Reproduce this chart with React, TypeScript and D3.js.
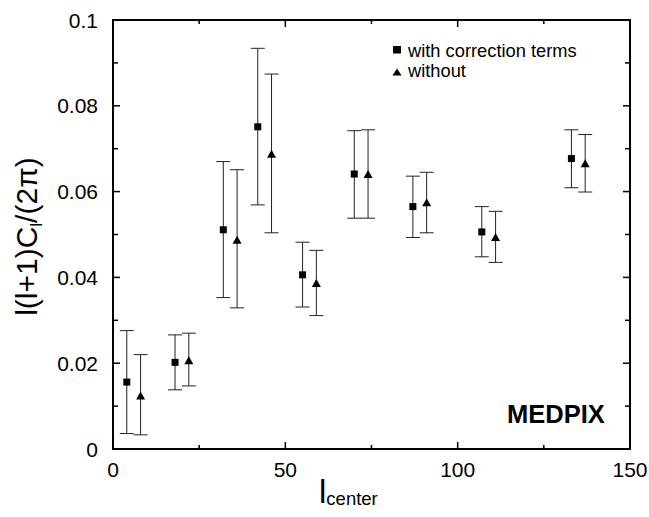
import React from "react";
import * as d3 from "d3";

const lCorr = [4, 18, 32, 42, 55, 70, 87, 107, 133];
const corrVal = [0.0156, 0.0202, 0.0511, 0.0751, 0.0406, 0.0641, 0.0565, 0.0506, 0.0677];
const corrHi = [0.0276, 0.0266, 0.067, 0.0934, 0.0482, 0.0742, 0.0636, 0.0565, 0.0744];
const corrLo = [0.0036, 0.0138, 0.0353, 0.0569, 0.0331, 0.0538, 0.0493, 0.0448, 0.0609];

const lNo = [8, 22, 36, 46, 59, 74, 91, 111, 137];
const noVal = [0.0125, 0.0207, 0.0488, 0.0688, 0.0387, 0.0641, 0.0575, 0.0494, 0.0666];
const noHi = [0.022, 0.027, 0.0651, 0.0874, 0.0463, 0.0744, 0.0645, 0.0554, 0.0733];
const noLo = [0.0033, 0.0147, 0.0329, 0.0504, 0.0311, 0.0538, 0.0504, 0.0435, 0.0599];

const xMajor = [0, 50, 100, 150];
const xMinor = [25, 75, 125];
const yMajor = [0, 0.02, 0.04, 0.06, 0.08, 0.1];
const yMinor = [0.01, 0.03, 0.05, 0.07, 0.09];
const yLabels = ["0", "0.02", "0.04", "0.06", "0.08", "0.1"];
const xLabels = ["0", "50", "100", "150"];

const W = 649;
const H = 517;
const font = "Arial, 'Liberation Sans', Helvetica, sans-serif";

export default function App() {
  const x = d3.scaleLinear().domain([0, 150]).range([113, 630]);
  const y = d3.scaleLinear().domain([0, 0.1]).range([449, 20]);
  const [x0, x1] = x.range();
  const [y0, y1] = y.range();
  const cap = 7;
  const sq = 7;
  const triW = 9, triH = 8;

  const errBars = (ls: number[], lo: number[], hi: number[], key: string) =>
    ls.map((l, i) => {
      const cx = x(l);
      return (
        <g key={key + i} stroke="#222" strokeWidth={1} fill="none">
          <line x1={cx} x2={cx} y1={y(lo[i])} y2={y(hi[i])} />
          <line x1={cx - cap} x2={cx + cap} y1={y(lo[i])} y2={y(lo[i])} />
          <line x1={cx - cap} x2={cx + cap} y1={y(hi[i])} y2={y(hi[i])} />
        </g>
      );
    });

  return (
    <svg
      width={W}
      height={H}
      style={{ position: "absolute", left: 0, top: 0, background: "#fff" }}
      fontFamily={font}
    >
      <rect x={0} y={0} width={W} height={H} fill="#fff" />
      {/* ticks */}
      <g stroke="#000" strokeWidth={1.5}>
        {xMajor.map((t) => (
          <g key={"xM" + t}>
            <line x1={x(t)} x2={x(t)} y1={y0} y2={y0 - 7} />
            <line x1={x(t)} x2={x(t)} y1={y1} y2={y1 + 7} />
          </g>
        ))}
        {xMinor.map((t) => (
          <g key={"xm" + t}>
            <line x1={x(t)} x2={x(t)} y1={y0} y2={y0 - 4} />
            <line x1={x(t)} x2={x(t)} y1={y1} y2={y1 + 4} />
          </g>
        ))}
        {yMajor.map((t) => (
          <g key={"yM" + t}>
            <line x1={x0} x2={x0 + 7} y1={y(t)} y2={y(t)} />
            <line x1={x1} x2={x1 - 7} y1={y(t)} y2={y(t)} />
          </g>
        ))}
        {yMinor.map((t) => (
          <g key={"ym" + t}>
            <line x1={x0} x2={x0 + 5} y1={y(t)} y2={y(t)} />
            <line x1={x1} x2={x1 - 5} y1={y(t)} y2={y(t)} />
          </g>
        ))}
      </g>
      <rect x={x0} y={y1} width={x1 - x0} height={y0 - y1} fill="none" stroke="#000" strokeWidth={2} />

      {/* tick labels */}
      <g fontSize={21} fill="#000">
        {yMajor.map((t, i) => (
          <text key={"yl" + t} x={98} y={y(t) + 7.5} textAnchor="end">
            {yLabels[i]}
          </text>
        ))}
        {xMajor.map((t, i) => (
          <text key={"xl" + t} x={x(t)} y={477} textAnchor="middle">
            {xLabels[i]}
          </text>
        ))}
      </g>

      {/* axis titles */}
      <text x={319} y={503} fontSize={33} fill="#000">
        l<tspan fontSize={18.5} dy={2}>center</tspan>
      </text>
      <text transform="translate(37,236.5) rotate(-90)" textAnchor="middle" fontSize={30} fill="#000">
        l(l+1)C<tspan fontSize={17} dy={5}>l</tspan>
        <tspan dy={-5}>/(2π)</tspan>
      </text>

      {/* error bars */}
      {errBars(lCorr, corrLo, corrHi, "c")}
      {errBars(lNo, noLo, noHi, "n")}

      {/* markers */}
      {lCorr.map((l, i) => (
        <rect key={"sq" + i} x={x(l) - sq / 2} y={y(corrVal[i]) - sq / 2} width={sq} height={sq} fill="#000" />
      ))}
      {lNo.map((l, i) => {
        const cx = x(l);
        const cy = y(noVal[i]);
        return (
          <path
            key={"tr" + i}
            d={`M${cx},${cy - triH / 2}L${cx + triW / 2},${cy + triH / 2}L${cx - triW / 2},${cy + triH / 2}Z`}
            fill="#000"
          />
        );
      })}

      {/* legend */}
      <rect x={393} y={46} width={8} height={7.5} fill="#000" />
      <text x={408} y={57} fontSize={18.3} fill="#000">with correction terms</text>
      <path d="M397,68.5L401.5,75.5L392.5,75.5Z" fill="#000" />
      <text x={408} y={77} fontSize={18.3} fill="#000">without</text>

      <text x={507} y={423} fontSize={25.5} fontWeight="bold" fill="#000">MEDPIX</text>
    </svg>
  );
}
